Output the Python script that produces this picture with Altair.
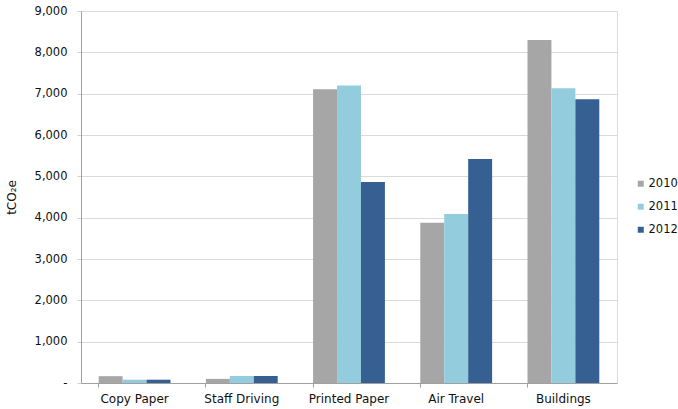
import altair as alt
import pandas as pd

# Emissions by source and year (tCO2e)
categories = ["Copy Paper", "Staff Driving", "Printed Paper", "Air Travel", "Buildings"]
years = ["2010", "2011", "2012"]
values_2010 = [165, 100, 7105, 3880, 8300]
values_2011 = [80, 170, 7200, 4090, 7130]
values_2012 = [80, 170, 4860, 5420, 6865]
colors = ["#a6a6a6", "#93cddd", "#366092"]

rows = []
for year, vals in zip(years, [values_2010, values_2011, values_2012]):
    for cat, v in zip(categories, vals):
        rows.append({"category": cat, "year": year, "value": v})
df = pd.DataFrame(rows)

font = "DejaVu Sans"
ink = "#111111"

chart = (
    alt.Chart(df)
    .mark_bar()
    .encode(
        x=alt.X(
            "category:N",
            sort=categories,
            title=None,
            scale=alt.Scale(paddingInner=0.33, paddingOuter=0.165),
            axis=alt.Axis(
                labelAngle=0,
                labelFont=font,
                labelFontSize=12,
                labelColor=ink,
                labelPadding=6,
                domainColor="#a0a0a0",
                tickColor="#a0a0a0",
                tickSize=4,
                bandPosition=0,
                grid=False,
            ),
        ),
        xOffset=alt.XOffset("year:N", sort=years),
        y=alt.Y(
            "value:Q",
            title="tCO₂e",
            scale=alt.Scale(domain=[0, 9000], nice=False),
            axis=alt.Axis(
                values=list(range(0, 9001, 1000)),
                labelExpr="datum.value == 0 ? '-' : format(datum.value, ',')",
                labelFont=font,
                labelFontSize=11.5,
                labelColor=ink,
                labelPadding=10,
                titleFont=font,
                titleFontSize=12,
                titleFontWeight="normal",
                titleColor=ink,
                titleX=-63,
                domainColor="#a0a0a0",
                tickColor="#d0d0d0",
                tickSize=4,
                gridColor="#dadada",
                gridWidth=1,
            ),
        ),
        color=alt.Color(
            "year:N",
            sort=years,
            scale=alt.Scale(domain=years, range=colors),
            legend=alt.Legend(
                title=None,
                orient="none",
                legendX=554,
                legendY=167,
                symbolType="square",
                symbolSize=36,
                symbolStrokeWidth=0,
                labelFont=font,
                labelFontSize=11.5,
                labelColor=ink,
                rowPadding=10,
                labelOffset=2,
            ),
        ),
    )
    .properties(
        width=536,
        height=372,
        autosize=alt.AutoSizeParams(type="none"),
        padding={"left": 81, "top": 11, "right": 61, "bottom": 26},
    )
    .configure_view(stroke=None)
    .configure(background="white")
)

chart.save("out.html", embed_options={"renderer": "svg", "actions": False})
